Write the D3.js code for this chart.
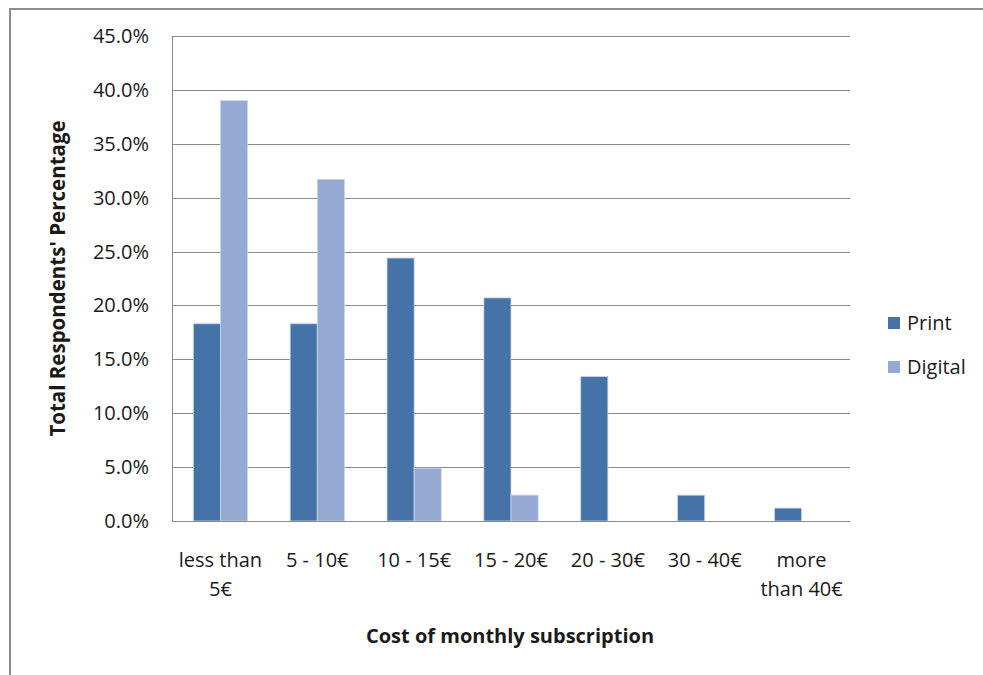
<!DOCTYPE html>
<html>
<head>
<meta charset="utf-8">
<script src="https://cdn.jsdelivr.net/npm/d3@7"></script>
<style>
  body { margin: 0; background: #fff; }
  text { font-family: "Open Sans", sans-serif; fill: #1a1a1a; }
</style>
</head>
<body>
<div id="chart"></div>
<script>
// data
const categories = ["less than 5€", "5 - 10€", "10 - 15€", "15 - 20€", "20 - 30€", "30 - 40€", "more than 40€"];
const catLines = [["less than", "5€"], ["5 - 10€"], ["10 - 15€"], ["15 - 20€"], ["20 - 30€"], ["30 - 40€"], ["more", "than 40€"]];
const seriesNames = ["Print", "Digital"];
const printValues = [18.3, 18.3, 24.4, 20.7, 13.4, 2.4, 1.2];
const digitalValues = [39.0, 31.7, 4.9, 2.4, 0, 0, 0];
const yTicks = [0, 5, 10, 15, 20, 25, 30, 35, 40, 45];
const colors = ["#4572A7", "#95AAD2"];

const W = 983, H = 675;
const plot = { left: 172, top: 36, right: 850, bottom: 521 };

const svg = d3.select("#chart").append("svg")
    .attr("width", W)
    .attr("height", H);

// outer chart border
svg.append("rect")
    .attr("x", 10).attr("y", 9)
    .attr("width", 1000).attr("height", 700)
    .attr("fill", "none")
    .attr("stroke", "#8c8c8c")
    .attr("stroke-width", 2);

let y = d3.scaleLinear().domain([0, 45]).range([plot.bottom, plot.top]);
let x0 = d3.scaleBand().domain(categories).range([plot.left, plot.right]).paddingInner(0.44).paddingOuter(0.22);
let x1 = d3.scaleBand().domain(seriesNames).range([0, x0.bandwidth()]);

// gridlines
svg.append("g").selectAll("line")
    .data(yTicks)
    .enter().append("line")
    .attr("x1", plot.left).attr("x2", plot.right)
    .attr("y1", d => Math.round(y(d)) + 0.5)
    .attr("y2", d => Math.round(y(d)) + 0.5)
    .attr("stroke", "#8a8a8a")
    .attr("stroke-width", 1);

// y axis line
svg.append("line")
    .attr("x1", plot.left + 0.5).attr("x2", plot.left + 0.5)
    .attr("y1", plot.top).attr("y2", plot.bottom)
    .attr("stroke", "#8a8a8a");

// y tick labels
svg.append("g").selectAll("text")
    .data(yTicks)
    .enter().append("text")
    .attr("x", 149)
    .attr("y", d => y(d))
    .attr("dy", "0.35em")
    .attr("text-anchor", "end")
    .style("font-size", "20px")
    .text(d => d.toFixed(1) + "%");

// bars
let rows = categories.map((c, i) => ({ cat: c, vals: [printValues[i], digitalValues[i]] }));
let groups = svg.append("g").selectAll("g")
    .data(rows)
    .enter().append("g")
    .attr("transform", d => "translate(" + x0(d.cat) + ",0)");

groups.selectAll("rect")
    .data(d => d.vals.map((v, j) => ({ name: seriesNames[j], v: v, j: j })).filter(d => d.v > 0))
    .enter().append("rect")
    .attr("x", d => x1(d.name))
    .attr("y", d => y(d.v))
    .attr("width", x1.bandwidth())
    .attr("height", d => plot.bottom - y(d.v))
    .attr("fill", d => colors[d.j])
    .attr("stroke", "#c9d5ea")
    .attr("stroke-width", 0.8);

// x axis line on top of bars
svg.append("line")
    .attr("x1", plot.left).attr("x2", plot.right)
    .attr("y1", plot.bottom + 0.5).attr("y2", plot.bottom + 0.5)
    .attr("stroke", "#8a8a8a");

// x labels
let xl = svg.append("g").selectAll("text")
    .data(categories)
    .enter().append("text")
    .attr("text-anchor", "middle")
    .attr("x", d => x0(d) + x0.bandwidth() / 2)
    .attr("y", 567)
    .style("font-size", "20px");
xl.selectAll("tspan")
    .data((d, i) => catLines[i])
    .enter().append("tspan")
    .attr("x", function () { return d3.select(this.parentNode).attr("x"); })
    .attr("dy", (d, i) => i === 0 ? 0 : 29)
    .text(d => d);

// axis titles
svg.append("text")
    .attr("x", 510)
    .attr("y", 643)
    .attr("text-anchor", "middle")
    .style("font-size", "20px")
    .style("font-weight", "bold")
    .text("Cost of monthly subscription");

svg.append("text")
    .attr("transform", "translate(65," + ((plot.top + plot.bottom) / 2) + ") rotate(-90)")
    .attr("text-anchor", "middle")
    .style("font-size", "20.5px")
    .style("font-weight", "bold")
    .text("Total Respondents' Percentage");

// legend
let legend = svg.append("g").selectAll("g")
    .data(seriesNames)
    .enter().append("g")
    .attr("transform", (d, i) => "translate(888," + (317 + i * 44) + ")");
legend.append("rect")
    .attr("width", 12).attr("height", 12)
    .attr("fill", (d, i) => colors[i]);
legend.append("text")
    .attr("x", 19).attr("y", 6)
    .attr("dy", "0.35em")
    .style("font-size", "20px")
    .text(d => d);
</script>
</body>
</html>
